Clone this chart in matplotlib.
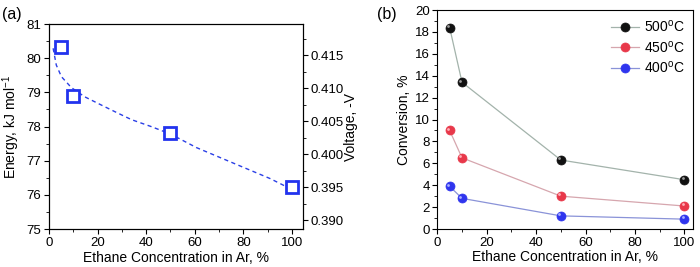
import matplotlib
matplotlib.use("Agg")
import matplotlib.pyplot as plt
from matplotlib.ticker import MultipleLocator, FormatStrFormatter
import matplotlib.transforms as mtransforms

plt.rcParams['font.family'] = ['Liberation Sans', 'DejaVu Sans']
plt.rcParams['mathtext.fontset'] = 'custom'
plt.rcParams['mathtext.rm'] = 'Liberation Sans'
plt.rcParams['mathtext.it'] = 'Liberation Sans:italic'

# Panel (a) data
conc_a = [5, 10, 50, 100]
energy = [80.33, 78.88, 77.82, 76.22]
fit_x = [1.7, 3.0, 5.1, 9.2, 14.7, 21.5, 28.4, 34.0, 42.0, 50.0, 60.8, 74.5, 90.9, 100.5]
fit_y = [80.29, 79.8, 79.46, 79.14, 78.87, 78.63, 78.39, 78.2, 78.0, 77.78, 77.38, 76.97, 76.48, 76.14]
F2 = 192.97  # kJ/mol per V (nF)

# Panel (b) data
conc_b = [5, 10, 50, 100]
conv_500 = [18.4, 13.4, 6.3, 4.5]
conv_450 = [9.0, 6.5, 3.0, 2.1]
conv_400 = [3.9, 2.8, 1.2, 0.9]
labels_b = ['500$^{\\mathrm{o}}$C', '450$^{\\mathrm{o}}$C', '400$^{\\mathrm{o}}$C']

fig = plt.figure(figsize=(7.0, 2.67), dpi=100)

TS = 9.5
LS = 10

# ---------------- (a)
ax1 = fig.add_axes([0.07, 0.1423, 0.363, 0.7677])
ax1.plot(fit_x, fit_y, ls=(0, (3, 2.5)), color='#2a3fe6', lw=1.0)
ax1.plot(conc_a, energy, ls='none', marker='s', ms=8.5, mfc='white',
         mec='#2233ee', mew=2.0)
ax1.set_xlim(0, 104.6)
ax1.set_ylim(75, 81)
ax1.xaxis.set_major_locator(MultipleLocator(20))
ax1.xaxis.set_minor_locator(MultipleLocator(10))
ax1.yaxis.set_major_locator(MultipleLocator(1))
ax1.yaxis.set_minor_locator(MultipleLocator(0.5))
ax1.set_xlabel('Ethane Concentration in Ar, %', fontsize=LS, labelpad=2)
ax1.set_ylabel('Energy, kJ mol$^{\\mathregular{-1}}$', fontsize=LS, labelpad=3)
ax1.tick_params(which='both', direction='out', labelsize=TS, top=False, right=False, pad=2)
ax1.tick_params(which='major', length=3.5)
ax1.tick_params(which='minor', length=2)

ax2 = ax1.twinx()
ax2.set_ylim(75 / F2, 81 / F2)
ax2.yaxis.set_major_locator(MultipleLocator(0.005))
ax2.yaxis.set_minor_locator(MultipleLocator(0.0025))
ax2.yaxis.set_major_formatter(FormatStrFormatter('%.3f'))
ax2.set_ylabel('Voltage, -V', fontsize=LS, labelpad=0)
ax2.tick_params(which='both', direction='out', labelsize=TS, pad=2)
ax2.tick_params(which='major', length=3.5)
ax2.tick_params(which='minor', length=2)

fig.text(0.003, 0.975, '(a)', fontsize=11.5, va='top', ha='left')

# ---------------- (b)
ax3 = fig.add_axes([0.6247, 0.1423, 0.3657, 0.8202])
line_cols = ['#a3b3ab', '#d6a6ae', '#8a93d8']
mark_cols = ['#111111', '#e8384a', '#2f35ee']
high_cols = ['#9a9a9a', '#ffb0b8', '#a8b0ff']
series = [conv_500, conv_450, conv_400]
for ys, lc, mc, hc, lab in zip(series, line_cols, mark_cols, high_cols, labels_b):
    ax3.plot(conc_b, ys, color=lc, lw=0.9, marker='o', ms=6.5, mfc=mc, mec=mc,
             mew=0.5, label=lab)
    off = mtransforms.offset_copy(ax3.transData, fig=fig, x=-1.2, y=1.2, units='points')
    ax3.plot(conc_b, ys, ls='none', marker='o', ms=2.0, mfc=hc, mec='none',
             transform=off)
ax3.set_xlim(0, 103.6)
ax3.set_ylim(0, 20)
ax3.xaxis.set_major_locator(MultipleLocator(20))
ax3.xaxis.set_minor_locator(MultipleLocator(10))
ax3.yaxis.set_major_locator(MultipleLocator(2))
ax3.yaxis.set_minor_locator(MultipleLocator(1))
ax3.set_xlabel('Ethane Concentration in Ar, %', fontsize=LS, labelpad=1)
ax3.set_ylabel('Conversion, %', fontsize=LS, labelpad=3)
ax3.tick_params(which='both', direction='out', labelsize=TS, top=False, right=False, pad=2)
ax3.tick_params(which='major', length=3.5)
ax3.tick_params(which='minor', length=2)
leg = ax3.legend(loc='upper right', frameon=False, fontsize=LS, handlelength=2.0,
                 handletextpad=0.35, labelspacing=0.3, borderaxespad=0.25)

fig.text(0.538, 0.975, '(b)', fontsize=11.5, va='top', ha='left')

fig.savefig('out.png', dpi=100)
